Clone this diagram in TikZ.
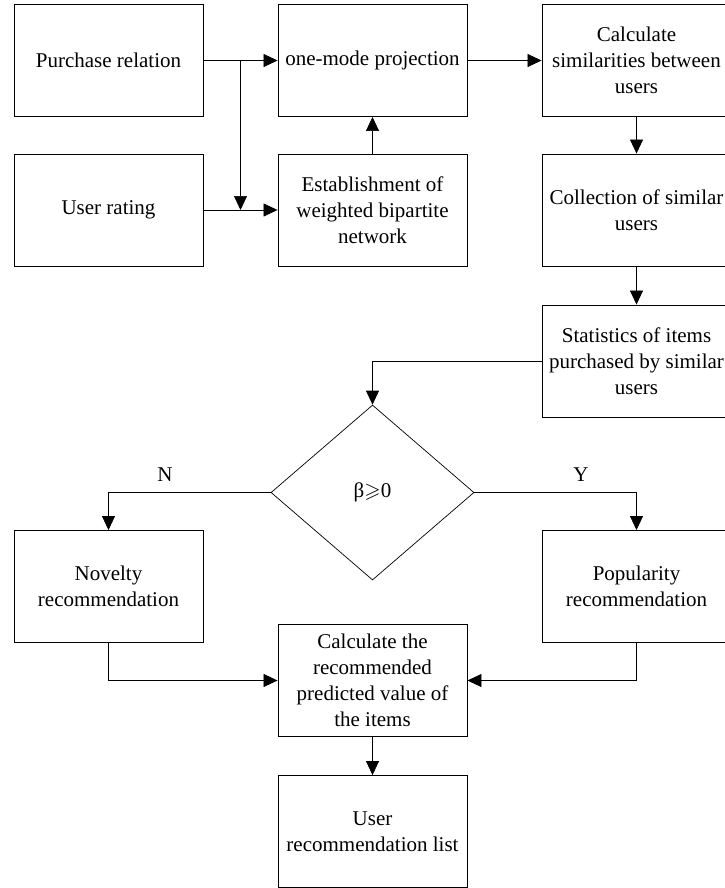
\documentclass[tikz,border=0pt]{standalone}
\usepackage{amssymb}
\usepackage{fontspec}
\setmainfont{Liberation Serif}
\usetikzlibrary{arrows.meta,shapes.geometric}

\tikzset{
  blk/.style={draw,line width=0.9pt,minimum width=189pt,minimum height=112pt,inner sep=2pt,align=center},
  dec/.style={draw,diamond,aspect=1.16,minimum width=203pt,minimum height=175pt,inner sep=0pt},
  >={Triangle[length=14pt,width=13pt]}
}

\begin{document}
\begin{tikzpicture}[x=1pt,y=-1pt,line width=0.7pt,font=\fontsize{21}{26}\selectfont]
    \useasboundingbox (0,0) rectangle (724,888);
    % top part
    \node[blk] (pr) at (108.5,60.5) {Purchase relation};
    \node[blk] (ur) at (108.5,210) {User rating};
    \node[blk] (om) at (372.5,60.5) {one-mode projection};
    \node[blk] (est) at (372.5,210) {Establishment of\\weighted bipartite\\network};
    \node[blk] (cs) at (636.5,60.5) {Calculate\\similarities between\\users};
    \node[blk] (col) at (636.5,210) {Collection of similar\\users};
    \node[blk] (stat) at (636.5,361) {Statistics of items\\purchased by similar\\users};
    \coordinate (br) at (240.5,60.5);
    \draw[->](pr)--(om);
    \draw[->](br)--(br|-ur);
    \draw[->](ur)--(est);
    \draw[->](est)--(om);
    \draw[->](om)--(cs);
    \draw[->](cs)--(col);
    \draw[->](col)--(stat);
    % decision
    \node[dec] (dia) at (372.5,492.5) {β{$\geqslant$}0};
    \draw[->](stat.west)-|(dia.north);
    \node[blk] (nov) at (108.5,586.5) {Novelty\\recommendation};
    \node[blk] (pop) at (636.5,586.5) {Popularity\\recommendation};
    \draw[->](dia.west)-|(nov.north);
    \draw[->](dia.east)-|(pop.north);
    \node (nlab) at (165,475) {N};
    \node (ylab) at (581,475) {Y};
    % bottom part
    \node[blk] (calc) at (372.5,680.5) {Calculate the\\recommended\\predicted value of\\the items};
    \node[blk] (list) at (372.5,831.5) {User\\recommendation list};
    \draw[->](nov.south)|-(calc.west);
    \draw[->](pop.south)|-(calc.east);
    \draw[->](calc)--(list);
  \end{tikzpicture}
\end{document}
